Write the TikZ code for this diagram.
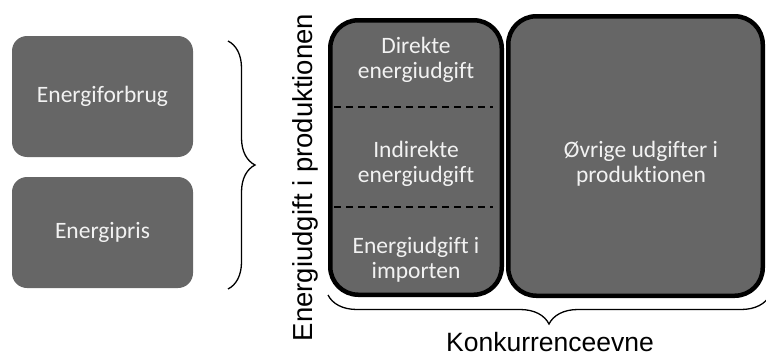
\documentclass[tikz,border=0pt]{standalone}
\usepackage{fontspec}
\usepackage{tikz}
\usetikzlibrary{positioning, decorations.pathreplacing}
\setmainfont{Carlito}[Ligatures=NoCommon]
\newfontfamily\arialfont{Liberation Sans}
\definecolor{kassegraa}{RGB}{102,102,102}
\definecolor{kassetekst}{RGB}{242,242,242}

\begin{document}
\begin{tikzpicture}[x=1pt, y=-1pt,
    kasse/.style={fill=kassegraa, draw=none, rounded corners=15pt,
        text=kassetekst, font=\fontsize{23.5}{25}\selectfont, align=center},
    storkasse/.style={fill=kassegraa, draw=black, line width=4.5pt, rounded corners=28pt},
    felttekst/.style={text=kassetekst, font=\fontsize{23.5}{25}\selectfont,
        align=center, anchor=base, inner sep=0pt},
    skillelinje/.style={line width=1.4pt, dash pattern=on 7pt off 5pt},
    klamme/.style={decorate, decoration={brace, amplitude=27pt}, line width=1.3pt},
    aksetekst/.style={font=\arialfont\fontsize{26.5}{30}\selectfont, inner sep=0pt}]
    \clip (0,0) rectangle (766,356);

    % Energiforbrug og energipris
    \node[kasse, minimum width=181pt, minimum height=121pt] (forbrug) at (102.5,96.5) {Energiforbrug};
    \node[kasse, minimum width=181pt, minimum height=111pt] (pris) at (102.5,232.5) {Energipris};

    % Klamme mod energiudgiften
    \coordinate (klammetop) at (228,41);
    \coordinate (klammebund) at (228,289);
    \draw[klamme] (klammetop) -- (klammebund);

    % Energiudgift i produktionen
    \node[storkasse, minimum width=171.5pt, minimum height=274.5pt] (energi) at (416,157.5) {};
    \node[felttekst] (direkte) at (416,78.3) {Direkte\\energiudgift};
    \node[felttekst] (indirekte) at (416,182.5) {Indirekte\\energiudgift};
    \node[felttekst] (import) at (416,278.3) {Energiudgift i\\importen};
    \coordinate (skille1v) at (334,107);
    \coordinate (skille1h) at (493,107);
    \coordinate (skille2v) at (334,207);
    \coordinate (skille2h) at (493,207);
    \draw[skillelinje] (skille1v) -- (skille1h);
    \draw[skillelinje] (skille2v) -- (skille2h);

    % Oevrige udgifter
    \node[storkasse, minimum width=254.5pt, minimum height=279.5pt] (oevrige) at (635.5,156) {};
    \node[felttekst] (oevrigetekst) at (641,182) {Øvrige udgifter i\\produktionen};

    % Akser
    \node[aksetekst, rotate=90, anchor=base, font=\arialfont\fontsize{27.5}{30}\selectfont] (akse) at (312,177.5) {Energiudgift i produktionen};
    \coordinate (bundhojre) at (770,295);
    \coordinate (bundvenstre) at (328,295);
    \draw[klamme, decoration={amplitude=29pt}] (bundhojre) -- (bundvenstre);
    \node[aksetekst, anchor=base] (konkurrence) at (550,351.5) {Konkurrenceevne};
\end{tikzpicture}
\end{document}
